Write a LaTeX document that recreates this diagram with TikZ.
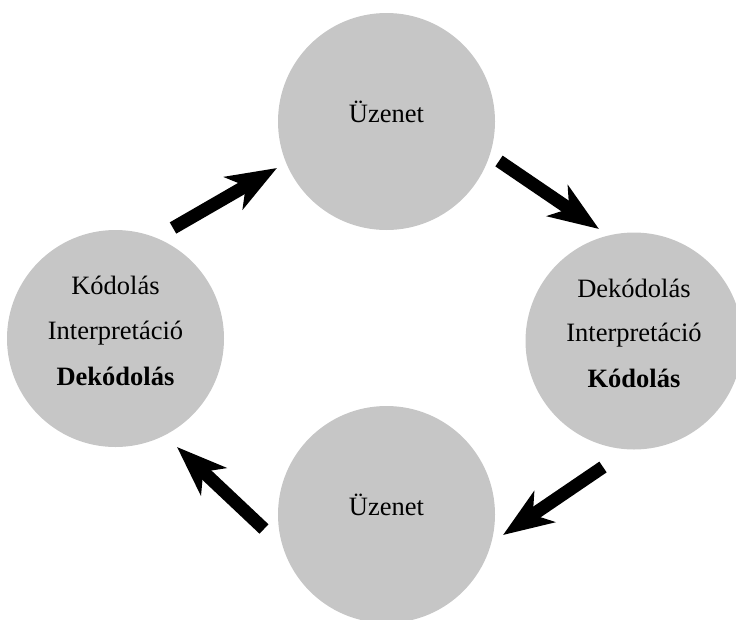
\documentclass[tikz,border=0pt]{standalone}
\usepackage{fontspec}
\setmainfont{Liberation Serif}
\usetikzlibrary{arrows.meta}
\definecolor{bubblegray}{RGB}{198,198,198}
\tikzset{
  bubble/.style={circle, fill=bubblegray, draw=none, minimum size=217pt, inner sep=0pt},
  lbl/.style={anchor=base, inner sep=0pt, font=\fontsize{26.5}{30}\selectfont},
  flow/.style={line width=13pt, -{Stealth[length=50pt, width=37pt, inset=14pt]}}
}
\begin{document}
\begin{tikzpicture}[x=1pt, y=-1pt]
\useasboundingbox (0,0) rectangle (736,619);

% the four stations of the cycle
\node[bubble] (top)    at (386.5,121.5) {};
\node[bubble] (right)  at (634,341) {};
\node[bubble] (bottom) at (386.5,514.5) {};
\node[bubble] (left)   at (115.5,338.5) {};

% labels
\node[lbl] (topmsg) at (386.5,122) {Üzenet};
\node[lbl] (botmsg) at (386.5,515) {Üzenet};

\node[lbl] (l1) at (115.5,294) {Kódolás};
\node[lbl] (l2) at (115.5,339) {Interpretáció};
\node[lbl] (l3) at (115.5,385) {\bfseries Dekódolás};

\node[lbl] (r1) at (634,297) {Dekódolás};
\node[lbl] (r2) at (634,341) {Interpretáció};
\node[lbl] (r3) at (634,387) {\bfseries Kódolás};

% arrow ends sit in the gaps between the circles
\coordinate (a1s) at (173,228);  \coordinate (a1e) at (277,168);
\coordinate (a2s) at (499,161);  \coordinate (a2e) at (599,229);
\coordinate (a3s) at (603,467);  \coordinate (a3e) at (503,535);
\coordinate (a4s) at (264,529);  \coordinate (a4e) at (177,447);

\draw[flow] (a1s) -- (a1e);
\draw[flow] (a2s) -- (a2e);
\draw[flow] (a3s) -- (a3e);
\draw[flow] (a4s) -- (a4e);
\end{tikzpicture}
\end{document}
